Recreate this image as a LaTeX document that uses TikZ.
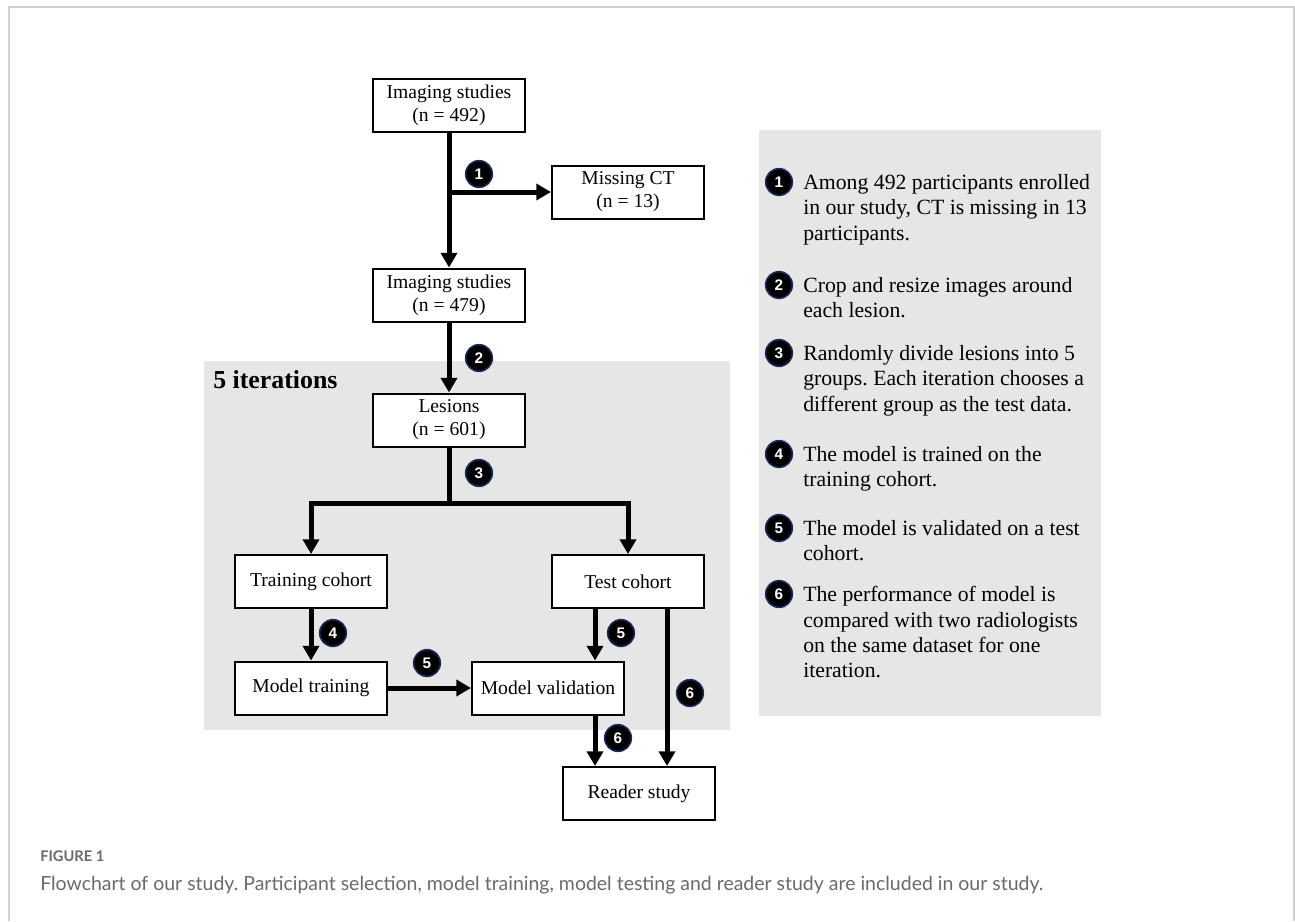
\documentclass[tikz,border=0pt]{standalone}
\usepackage{fontspec}
\setmainfont{Liberation Serif}
\newfontfamily\captionfont{Lato}
\newfontfamily\numfont{Liberation Sans}
\usepackage{tikz}
\usetikzlibrary{arrows.meta,calc}
\frenchspacing
\definecolor{panelgray}{HTML}{E6E6E6}
\definecolor{framegray}{HTML}{D0D0D0}
\definecolor{captiongray}{HTML}{6A6A6A}
\definecolor{badgerim}{HTML}{1C2A5A}
\tikzset{
  stage/.style={draw, line width=1.5pt, fill=white, minimum width=114pt, minimum height=39.75pt,
    align=center, inner sep=2pt, font=\fontsize{14.7}{17.25}\selectfont},
  flow/.style={line width=3.75pt, -{Triangle[length=11pt,width=12pt]}},
  flowline/.style={line width=3.75pt},
  badge/.style={circle, fill=black, draw=badgerim, line width=1.2pt, text=white, minimum size=20pt,
    inner sep=0pt, font=\numfont\bfseries\fontsize{11.5}{11.5}\selectfont},
  note/.style={anchor=north west, align=left, inner sep=0pt, font=\fontsize{16.3}{19.1}\selectfont},
  captext/.style={anchor=base west, inner sep=0pt, text=captiongray}
}
\begin{document}
\begin{tikzpicture}[x=0.75pt,y=-0.75pt]
\useasboundingbox (0,0) rectangle (1295,921);
\draw[framegray, line width=1.2pt] (9,921) -- (9,7) -- (1294,7) -- (1294,921);
\fill[panelgray] (204,361) rectangle (730,730);
\fill[panelgray] (759,130) rectangle (1101,716);
\node[anchor=base west, inner sep=0pt, font=\bfseries\fontsize{19.4}{19.4}\selectfont] (iter) at (213,388) {5 iterations};

\node[stage] (study) at (449,105) {Imaging studies\\(n = 492)};
\node[stage] (missing) at (628,192) {Missing CT\\(n = 13)};
\node[stage] (studyb) at (449,295) {Imaging studies\\(n = 479)};
\node[stage] (lesions) at (449,420) {Lesions\\(n = 601)};
\node[stage] (training) at (311,581.5) {Training cohort};
\node[stage] (test) at (628,581.5) {Test cohort};
\node[stage] (modeltrain) at (311,688) {Model training};
\node[stage] (validation) at (548,688) {Model validation};
\node[stage] (reader) at (639,793.5) {Reader study};

\draw[flow] (study) -- (studyb);
\draw[flow] (study.south |- missing.west) -- (missing.west);
\draw[flow] (studyb) -- (lesions);
\coordinate (split) at (449,503);
\draw[flowline] (lesions.south) -- (split);
\draw[flow] (split) -| (training.north);
\draw[flow] (split) -| (test.north);
\draw[flow] (training) -- (modeltrain);
\draw[flow] (modeltrain) -- (validation);
\draw[flow] ([xshift=-24.75pt]test.south) -- ([xshift=-24.75pt]test.south |- validation.north);
\draw[flow] ([xshift=-24.75pt]test.south |- validation.south) -- ([xshift=-24.75pt]test.south |- reader.north);
\draw[flow] ([xshift=29.25pt]test.south) -- ([xshift=29.25pt]test.south |- reader.north);

\node[badge] (b1) at (479,174) {1};
\node[badge] (b2) at (479,358) {2};
\node[badge] (b3) at (479,473) {3};
\node[badge] (b4) at (333,633) {4};
\node[badge] (b5) at (621,633) {5};
\node[badge] (b5b) at (427,663) {5};
\node[badge] (b6) at (690,693) {6};
\node[badge] (b6b) at (618,738) {6};

\node[badge] (k1) at (779,182) {1};
\node[note] (t1) at (803,174) {Among 492 participants enrolled\\in our study, CT is missing in 13\\participants.};
\node[badge] (k2) at (779,285) {2};
\node[note] (t2) at (803,277) {Crop and resize images around\\each lesion.};
\node[badge] (k3) at (779,353) {3};
\node[note] (t3) at (803,345) {Randomly divide lesions into 5\\groups. Each iteration chooses a\\different group as the test data.};
\node[badge] (k4) at (779,454) {4};
\node[note] (t4) at (803,446) {The model is trained on the\\training cohort.};
\node[badge] (k5) at (779,528) {5};
\node[note] (t5) at (803,520) {The model is validated on a test\\cohort.};
\node[badge] (k6) at (779,594) {6};
\node[note] (t6) at (803,586) {The performance of model is\\compared with two radiologists\\on the same dataset for one\\iteration.};

\node[captext, font=\captionfont\bfseries\fontsize{11}{11}\selectfont] (figlabel) at (40,861) {FIGURE 1};
\node[captext, font=\captionfont\fontsize{14.6}{14.6}\selectfont] (caption) at (40,890) {Flowchart of our study. Participant selection, model training, model testing and reader study are included in our study.};
\end{tikzpicture}
\end{document}
